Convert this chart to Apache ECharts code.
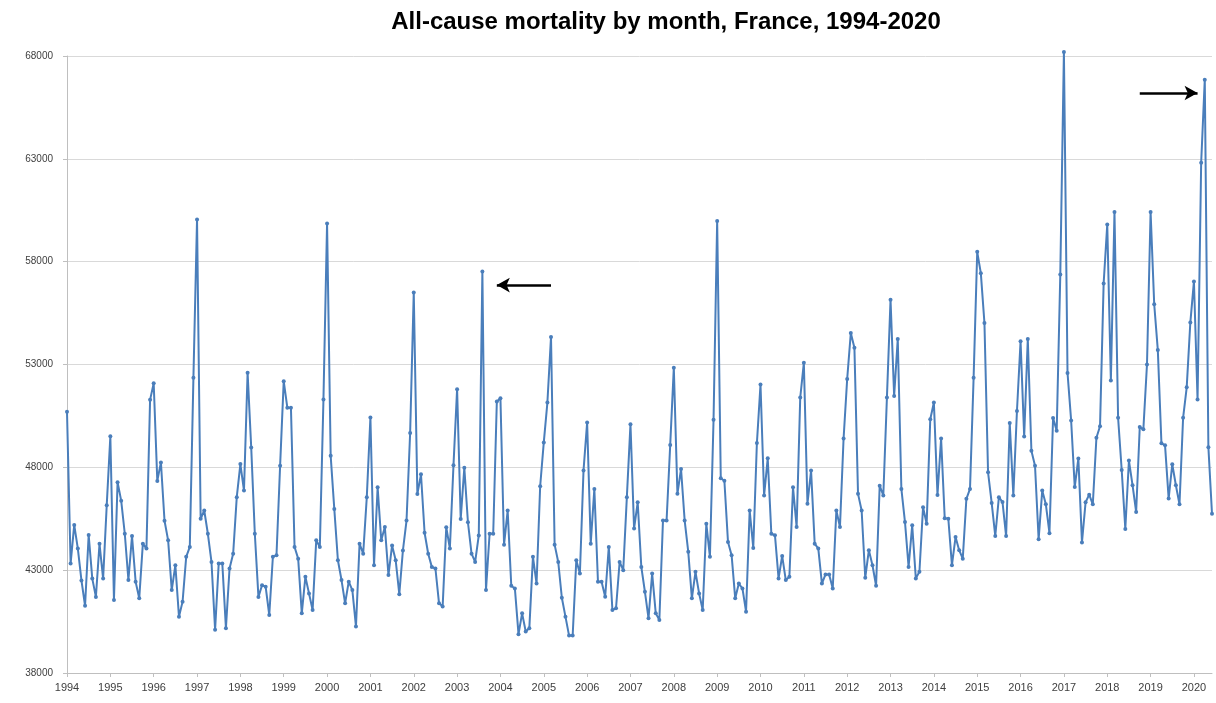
<!DOCTYPE html>
<html>
<head>
<meta charset="utf-8">
<script src="https://cdn.jsdelivr.net/npm/echarts@6/dist/echarts.min.js"></script>
<style>
html,body{margin:0;padding:0;background:#fff;}
#chart{width:1216px;height:703px;}
</style>
</head>
<body>
<div id="chart"></div>
<script>
// Monthly all-cause deaths, France (Jan..Dec per year)
const years = [1994,1995,1996,1997,1998,1999,2000,2001,2002,2003,2004,2005,2006,2007,2008,2009,2010,2011,2012,2013,2014,2015,2016,2017,2018,2019,2020];
const d1994 = [50700,43320,45200,44050,42500,41270,44710,42590,41700,44280,42590,46160];
const d1995 = [49510,41550,47280,46380,44770,42520,44660,42440,41630,44290,44050,51280];
const d1996 = [52090,47340,48240,45400,44450,42030,43240,40740,41470,43650,44130,52350];
const d1997 = [60050,45500,45900,44770,43400,40100,43320,43320,40180,43080,43800,46550];
const d1998 = [48160,46870,52600,48970,44770,41700,42270,42190,40820,43650,43730,48080];
const d1999 = [52190,50900,50900,44130,43560,40900,42680,41870,41060,44450,44130,51300];
const d2000 = [59850,48560,45980,43480,42520,41390,42440,42030,40260,44290,43800,46550];
const d2001 = [50420,43240,47030,44450,45100,42760,44200,43480,41830,43960,45410,49670];
const d2002 = [56500,46700,47660,44820,43800,43160,43080,41390,41230,45090,44050,48100];
const d2003 = [51800,45490,47980,45330,43800,43400,44690,57520,42040,44770,44770,51200];
const d2004 = [51360,44240,45900,42240,42110,39890,40900,40020,40180,43650,42350,47080];
const d2005 = [49210,51150,54340,44240,43400,41660,40740,39820,39820,43480,42840,47840];
const d2006 = [50180,44290,46950,42440,42440,41710,44130,41060,41150,43400,43000,46550];
const d2007 = [50100,45020,46300,43160,41950,40660,42840,40900,40580,45420,45420,49080];
const d2008 = [52840,46710,47920,45420,43890,41630,42920,41870,41060,45260,43650,50310];
const d2009 = [59980,47470,47350,44370,43730,41630,42350,42110,40980,45900,44080,49180];
const d2010 = [52030,46630,48440,44770,44700,42600,43690,42520,42680,47030,45100,51390];
const d2011 = [53080,46230,47840,44290,44050,42350,42790,42790,42110,45900,45100,49400];
const d2012 = [52300,54530,53810,46710,45900,42630,43970,43240,42240,47110,46630,51390];
const d2013 = [56150,51470,54240,46950,45340,43160,45180,42600,42920,46060,45260,50340];
const d2014 = [51150,46660,49400,45530,45500,43240,44610,43970,43560,46470,46950,52350];
const d2015 = [58480,57440,55020,47760,46270,44660,46550,46310,44660,50150,46630,50740];
const d2016 = [54130,49500,54240,48810,48080,44500,46870,46200,44800,50400,49780,57370];
const d2017 = [68190,52590,50280,47040,48430,44350,46300,46670,46200,49440,50000,56940];
const d2018 = [59810,52220,60410,50410,47870,45000,48330,47130,45830,49960,49850,53000];
const d2019 = [60410,55930,53700,49170,49070,46480,48150,47130,46200,50410,51890,55040];
const d2020 = [57040,51300,62810,66850,48980,45740];
const monthNames = ['01','02','03','04','05','06','07','08','09','10','11','12'];

// Arrow annotations: [month index, value] of tail and head
const arrowHeatwave = [[133.7, 56860], [118.6, 56860]];
const arrowCovid = [[297.3, 66200], [313.2, 66200]];

const yearly = [d1994,d1995,d1996,d1997,d1998,d1999,d2000,d2001,d2002,d2003,d2004,d2005,d2006,d2007,d2008,d2009,d2010,d2011,d2012,d2013,d2014,d2015,d2016,d2017,d2018,d2019,d2020];
const categories = [];
const values = [];
yearly.forEach((arr, yi) => {
  arr.forEach((v, mi) => {
    categories.push(years[yi] + '-' + monthNames[mi]);
    values.push(v);
  });
});

const chart = echarts.init(document.getElementById('chart'));
const isYearStart = (i) => i % 12 === 0;
chart.setOption({
  animation: false,
  title: {
    text: 'All-cause mortality by month, France, 1994-2020',
    left: 661, top: 5, textAlign: 'center',
    textStyle: { fontFamily: 'Liberation Sans, Arial, sans-serif', fontWeight: 'bold', fontSize: 24, color: '#000' }
  },
  grid: { left: 67, right: 4, top: 56, bottom: 30, containLabel: false },
  xAxis: {
    type: 'category',
    data: categories,
    boundaryGap: false,
    axisLine: { lineStyle: { color: '#bfbfbf', width: 1 } },
    axisTick: { show: true, interval: (i) => isYearStart(i), length: 4, lineStyle: { color: '#bfbfbf' } },
    axisLabel: {
      interval: (i) => isYearStart(i),
      formatter: (v) => v.slice(0, 4),
      fontFamily: 'Liberation Sans, Arial, sans-serif', fontSize: 11, color: '#404040', margin: 9
    },
    splitLine: { show: false }
  },
  yAxis: {
    type: 'value',
    min: 38000, max: 68000, interval: 5000,
    axisLine: { show: true, lineStyle: { color: '#bfbfbf' } },
    axisTick: { show: true, length: 4, lineStyle: { color: '#bfbfbf' } },
    axisLabel: {
      formatter: (v) => String(v),
      fontFamily: 'Liberation Sans, Arial, sans-serif', fontSize: 10, color: '#404040', margin: 14
    },
    splitLine: { show: true, lineStyle: { color: '#d9d9d9', width: 1 } }
  },
  series: [{
    type: 'line',
    data: values,
    clip: false,
    symbol: 'circle',
    symbolSize: 4,
    showAllSymbol: true,
    lineStyle: { color: '#4a7ebb', width: 2 },
    itemStyle: { color: '#4a7ebb' },
    markLine: {
      silent: true,
      symbol: ['none', 'arrow'],
      symbolSize: [11, 13],
      label: { show: false },
      lineStyle: { color: '#000', width: 2.5, type: 'solid' },
      data: [
        [{ coord: arrowHeatwave[0] }, { coord: arrowHeatwave[1] }],
        [{ coord: arrowCovid[0] }, { coord: arrowCovid[1] }]
      ]
    }
  }]
});
</script>
</body>
</html>
